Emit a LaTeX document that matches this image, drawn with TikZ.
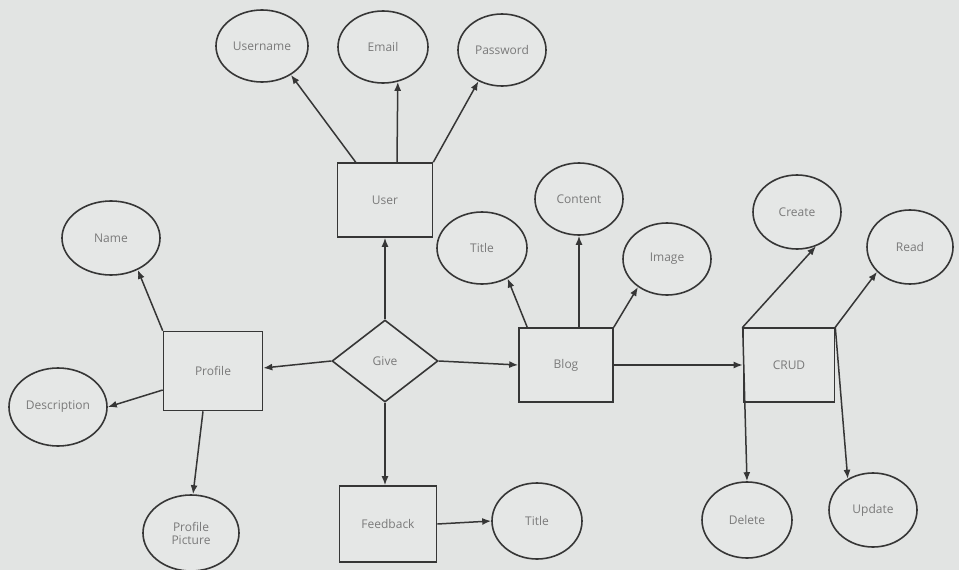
\documentclass[tikz,border=0pt]{standalone}
\usepackage{fontspec}
\setmainfont{Open Sans}
\usetikzlibrary{shapes.geometric,arrows.meta}
\definecolor{bg}{HTML}{E2E4E3}
\definecolor{boxfill}{HTML}{E5E7E6}
\definecolor{ln}{HTML}{363636}
\definecolor{tx}{HTML}{7A7A7A}
\begin{document}
\begin{tikzpicture}[x=1pt,y=-1pt,
  attr/.style={ellipse, draw=ln, line width=1.6pt, fill=boxfill, minimum width=90pt, minimum height=72pt, inner sep=0pt, font=\fontsize{12}{13}\selectfont, text=tx, align=center},
  ent/.style={rectangle, draw=ln, line width=1.6pt, fill=boxfill, inner sep=0pt, font=\fontsize{12}{13}\selectfont, text=tx},
  rel/.style={diamond, draw=ln, line width=1.6pt, fill=boxfill, inner sep=0pt, minimum width=106pt, minimum height=82pt, font=\fontsize{12}{13}\selectfont, text=tx},
  conn/.style={draw=ln, line width=1.5pt, -{Latex[length=9pt,width=7pt]}}]
\fill[bg] (0,0) rectangle (959,570);
\useasboundingbox (0,0) rectangle (959,570);
% entities
\node[ent, minimum width=95pt, minimum height=74pt] (user) at (385,200) {User};
\node[ent, minimum width=99pt, minimum height=79pt] (profile) at (213,371) {Profile};
\node[ent, minimum width=94pt, minimum height=74pt] (blog) at (566,365) {Blog};
\node[ent, minimum width=91pt, minimum height=74pt] (crud) at (789,365) {CRUD};
\node[ent, minimum width=97pt, minimum height=76pt] (feedback) at (388,524) {Feedback};
\node[rel] (give) at (385,361) {Give};
% attributes
\node[attr, minimum width=92pt] (username) at (262,46) {Username};
\node[attr] (email) at (383,47) {Email};
\node[attr, minimum width=88pt] (password) at (502,50) {Password};
\node[attr, minimum width=98pt, minimum height=74pt] (name) at (111,238) {Name};
\node[attr, minimum width=98pt, minimum height=78pt] (description) at (58,407) {Description};
\node[attr, minimum width=96pt, minimum height=76pt] (ppicture) at (191,533) {Profile\\Picture};
\node[attr] (btitle) at (482,248) {Title};
\node[attr, minimum width=88pt] (content) at (579,199) {Content};
\node[attr, minimum width=88pt] (image) at (667,259) {Image};
\node[attr, minimum width=88pt, minimum height=74pt] (create) at (797,212) {Create};
\node[attr, minimum width=86pt, minimum height=74pt] (read) at (910,247) {Read};
\node[attr, minimum height=76pt] (delete) at (747,520) {Delete};
\node[attr, minimum width=88pt, minimum height=74pt] (update) at (873,510) {Update};
\node[attr, minimum height=76pt] (ftitle) at (537,521) {Title};
% connectors
\draw[conn] ([xshift=19pt]user.north west) -- (username.-45);
\draw[conn] ([xshift=12pt]user.north) -- (email.-67);
\draw[conn] (user.north east) -- (password.-127);
\draw[conn] (profile.north west) -- (name.-50);
\draw[conn] ([yshift=-19pt]profile.west) -- (description.east);
\draw[conn] ([xshift=-10pt]profile.south) -- (ppicture.87);
\draw[conn] (give.west) -- ([yshift=3pt]profile.east);
\draw[conn] (give.north) -- (user.south);
\draw[conn] (give.south) -- (give.south |- feedback.north);
\draw[conn] (give.east) -- (blog.west);
\draw[conn] ([xshift=9pt]blog.north west) -- (btitle.-50);
\draw[conn] (content.south |- blog.north) -- (content.south);
\draw[conn] (blog.north east) -- (image.-136);
\draw[conn] (blog.east) -- (crud.west);
\draw[conn] (crud.north west) -- (create.-61);
\draw[conn] (crud.north east) -- (read.-143);
\draw[conn] (crud.north west) -- (delete.north);
\draw[conn] (crud.north east) -- (update.129);
\draw[conn] (feedback.east) -- (ftitle.west);
\end{tikzpicture}
\end{document}
